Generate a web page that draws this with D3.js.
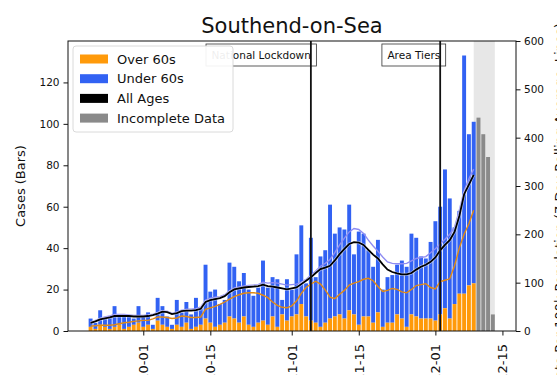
<!DOCTYPE html>
<html><head><meta charset="utf-8">
<script src="https://cdn.jsdelivr.net/npm/d3@7"></script>
<style>body{margin:0;background:#fff}svg{display:block;font-family:"DejaVu Sans",sans-serif}</style>
</head><body>
<svg id="chart" width="557" height="375"></svg>
<script>
// ---- data ----
const startDate = "2020-09-20";
const totalCases = [6,4,10,6,7,12,7,7,7,6,12,7,9,3,16,12,7,3,15,9,14,8,16,11,32,19,20,13,15,33,31,24,28,20,17,21,34,21,26,25,15,25,20,37,51,23,45,26,36,39,61,47,50,49,61,37,48,47,39,31,44,20,26,27,32,34,31,47,45,36,35,43,53,60,78,64,50,58,133,95,101];
const over60Cases = [2,1,3,2,1,2,3,1,2,3,4,2,3,1,5,3,2,1,3,2,4,1,2,3,6,4,2,3,4,7,6,4,7,3,2,4,5,3,7,2,8,5,7,8,13,7,5,4,2,4,6,7,8,6,10,8,3,7,7,4,9,2,4,4,8,6,2,8,7,6,6,6,5,8,11,6,13,18,18,22,23];
const incompleteStart = "2020-12-10";
const incompleteCases = [103,95,84,8];
const rateAllAges = [17,20,24,26,28,31,31,31,31,30,30,30,31,33,36,40,39,35,37,41,42,42,43,46,60,64,66,68,72,80,86,88,90,91,92,93,96,93,92,90,88,86,88,90,97,104,111,120,128,131,135,146,159,170,180,184,183,178,168,158,150,138,127,122,119,117,117,120,127,133,137,143,152,167,178,188,205,238,283,303,323];
const rateUnder60 = [18,22,26,29,31,34,34,34,33,32,32,32,33,35,38,42,41,37,39,43,45,45,46,50,64,68,70,71,75,83,89,91,93,94,95,96,101,99,100,99,97,95,96,97,101,107,115,124,134,140,148,162,178,192,205,212,210,202,188,176,165,153,143,140,139,139,140,145,150,152,154,162,170,180,190,200,215,250,290,315,335];
const rateOver60 = [10,11,12,12,12,13,15,17,18,20,21,22,22,25,29,29,28,26,27,31,30,28,28,29,45,48,51,55,60,66,71,75,78,79,79,78,74,69,60,53,49,48,52,62,78,90,97,103,97,85,70,67,76,84,95,99,102,107,109,104,92,82,84,88,86,81,79,86,94,96,98,90,87,102,105,108,135,172,200,222,250];
const eventDates = ["2020-11-05","2020-12-02"];
const eventLabels = ["National Lockdown","Area Tiers"];
const leftTicks = [0,20,40,60,80,100,120];
const rightTicks = [0,100,200,300,400,500,600];
const xTickDates = ["2020-10-01","2020-10-15","2020-11-01","2020-11-15","2020-12-01","2020-12-15"];
const xLimits = ["2020-09-15T06:45:00Z","2020-12-17T20:00:00Z"];
const incompleteSpan = ["2020-12-09T00:00:00Z","2020-12-13T10:00:00Z"];
const legendLabels = ["Over 60s","Under 60s","All Ages","Incomplete Data"];
const colors = {over:"#ff9a0a", under:"#3262f3", all:"#000000", grey:"#8a8a8a"};

// ---- layout ----
const svg = d3.select("#chart");
const M = {l:68, r:516, t:41, b:331};
const parse = d3.utcParse("%Y-%m-%d");
const start = parse(startDate);
const days = totalCases.map((_, i) => d3.utcDay.offset(start, i));
const greyDays = incompleteCases.map((_, i) => d3.utcDay.offset(parse(incompleteStart), i));

const x = d3.scaleUtc().domain(xLimits.map(s => new Date(s))).range([M.l, M.r]);
const yL = d3.scaleLinear().domain([0, 140]).range([M.b, M.t]);
const yR = d3.scaleLinear().domain([0, 600]).range([M.b, M.t]);
const dayW = x(d3.utcDay.offset(start,1)) - x(start);
const bw = dayW * 0.82;

svg.append("clipPath").attr("id","pc").append("rect")
  .attr("x",M.l).attr("y",M.t).attr("width",M.r-M.l).attr("height",M.b-M.t);
const plot = svg.append("g").attr("clip-path","url(#pc)");

// incomplete shading
plot.append("rect")
  .attr("x", x(new Date(incompleteSpan[0]))).attr("y", M.t)
  .attr("width", x(new Date(incompleteSpan[1])) - x(new Date(incompleteSpan[0])))
  .attr("height", M.b - M.t).attr("fill", "rgba(160,160,160,0.25)");

// bars: under 60 stacked on over 60
plot.append("g").selectAll("rect").data(days).join("rect")
  .attr("x", d => x(d) - bw/2).attr("width", bw)
  .attr("y", (d,i) => yL(totalCases[i])).attr("height", (d,i) => yL(over60Cases[i]) - yL(totalCases[i]))
  .attr("fill", colors.under);
plot.append("g").selectAll("rect").data(days).join("rect")
  .attr("x", d => x(d) - bw/2).attr("width", bw)
  .attr("y", (d,i) => yL(over60Cases[i])).attr("height", (d,i) => yL(0) - yL(over60Cases[i]))
  .attr("fill", colors.over);
plot.append("g").selectAll("rect").data(greyDays).join("rect")
  .attr("x", d => x(d) - bw/2).attr("width", bw)
  .attr("y", (d,i) => yL(incompleteCases[i])).attr("height", (d,i) => yL(0) - yL(incompleteCases[i]))
  .attr("fill", colors.grey);

// lines
const line = arr => d3.line().x((d,i) => x(days[i])).y(d => yR(d))(arr);
plot.append("path").attr("d", line(rateUnder60)).attr("fill","none")
  .attr("stroke","#8e8cf2").attr("stroke-width",1.4);
plot.append("path").attr("d", line(rateOver60)).attr("fill","none")
  .attr("stroke","#e38a12").attr("stroke-width",1.4);
plot.append("path").attr("d", line(rateAllAges)).attr("fill","none")
  .attr("stroke","#ffffff").attr("stroke-opacity",0.5).attr("stroke-width",3.2);
plot.append("path").attr("d", line(rateAllAges)).attr("fill","none")
  .attr("stroke",colors.all).attr("stroke-width",1.8);

// event boxes & lines
eventDates.forEach((ds, i) => {
  const ex = x(parse(ds));
  const g = plot.append("g");
  const r = g.append("rect");
  const t = g.append("text").attr("x", ex).attr("y", 59).attr("text-anchor","end")
    .attr("font-size","10.5px").attr("fill","#111").text(eventLabels[i]);
  const bb = t.node().getBBox();
  r.attr("x", bb.x - 5.5).attr("y", 44).attr("width", bb.width + 11).attr("height", 22)
    .attr("fill","#fff").attr("stroke","#333").attr("stroke-width",0.8);
  plot.append("line").attr("x1", ex).attr("x2", ex).attr("y1", M.t).attr("y2", M.b)
    .attr("stroke","#111").attr("stroke-width",1.8);
});

// axes
const axL = svg.append("g").attr("transform",`translate(${M.l},0)`)
  .call(d3.axisLeft(yL).tickValues(leftTicks).tickSize(4.5).tickPadding(4));
const axR = svg.append("g").attr("transform",`translate(${M.r},0)`)
  .call(d3.axisRight(yR).tickValues(rightTicks).tickSize(4.5).tickPadding(3.5));
const axB = svg.append("g").attr("transform",`translate(0,${M.b})`)
  .call(d3.axisBottom(x).tickValues(xTickDates.map(s => parse(s))).tickFormat(d3.utcFormat("%Y-%m-%d")).tickSize(4.5));
[axL, axR, axB].forEach(a => {
  a.select(".domain").remove();
  a.selectAll("text").attr("font-size","10.5px").attr("fill","#111").attr("font-family","DejaVu Sans");
  a.selectAll("line").attr("stroke","#111");
});
axB.selectAll("text").attr("font-size","13px").attr("text-anchor","end").attr("transform","translate(0,13) rotate(-90)")
  .attr("x",0).attr("y",0).attr("dy","0.35em");

// frame
svg.append("rect").attr("x",M.l).attr("y",M.t).attr("width",M.r-M.l).attr("height",M.b-M.t)
  .attr("fill","none").attr("stroke","#111").attr("stroke-width",1);

// legend
const lg = svg.append("g");
lg.append("rect").attr("x",73).attr("y",46).attr("width",160).attr("height",86).attr("rx",3)
  .attr("fill","#fff").attr("fill-opacity",0.93).attr("stroke","#d0d0d0").attr("stroke-width",0.8);
const legCols = [colors.over, colors.under, colors.all, colors.grey];
legendLabels.forEach((lab, i) => {
  const cy = 59 + i * 19.7;
  lg.append("rect").attr("x",80).attr("y",cy-4.5).attr("width",28).attr("height",9).attr("fill",legCols[i]);
  lg.append("text").attr("x",117).attr("y",cy).attr("dy","0.35em").attr("font-size","13px").attr("fill","#111").text(lab);
});

// titles
svg.append("text").attr("x",(M.l+M.r)/2).attr("y",33).attr("text-anchor","middle")
  .attr("font-size","21px").attr("fill","#111").text("Southend-on-Sea");
svg.append("text").attr("transform",`translate(25,${(M.t+M.b)/2}) rotate(-90)`).attr("text-anchor","middle")
  .attr("font-size","13px").attr("fill","#111").text("Cases (Bars)");
svg.append("text").attr("transform",`translate(564,205) rotate(-90)`).attr("text-anchor","middle")
  .attr("font-size","13px").attr("fill","#111").text("Rate Per 100k Population (7 Day Rolling Average, Lines)");
</script>
</body></html>
